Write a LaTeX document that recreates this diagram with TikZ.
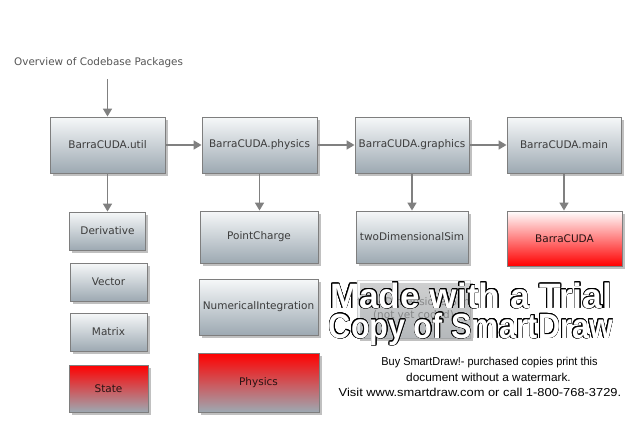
\documentclass[tikz,border=0pt]{standalone}
\usepackage{fontspec}
\setmainfont{DejaVu Sans}
\newfontfamily\wmfont{Liberation Sans}
\usepackage{contour}
\contourlength{0.7pt}
\usetikzlibrary{shadows,arrows.meta}
\definecolor{graytop}{HTML}{F6F8F9}
\definecolor{graybot}{HTML}{9DA9B2}
\definecolor{redtop}{HTML}{FF0000}
\definecolor{boxborder}{HTML}{7E7E7E}
\definecolor{boxtext}{HTML}{3C3C3C}
\definecolor{arrowgray}{HTML}{808080}
\definecolor{titlegray}{HTML}{555555}
\begin{document}
\begin{tikzpicture}[x=1pt,y=-1pt,
  box/.style={draw=boxborder, line width=0.9pt, top color=graytop, bottom color=graybot,
    text=boxtext, font=\fontsize{10.5}{12.5}\selectfont, inner sep=0pt, align=center,
    drop shadow={shadow xshift=2.5pt, shadow yshift=-2.5pt, opacity=0.35, fill=black!70}},
  redbox/.style={box, top color=redtop, bottom color=graybot, text=boxtext!80!red!40!black},
  mainred/.style={box, top color=white, bottom color=redtop, text=boxtext!80!red!40!black},
  arr/.style={draw=arrowgray, line width=1.6pt, -{Triangle[length=8pt,width=9pt]}, fill=arrowgray},
  wmbig/.style={anchor=base, inner sep=0pt, font=\wmfont\bfseries\fontsize{35}{40}\selectfont},
  wmsmall/.style={anchor=base, inner sep=0pt, font=\wmfont\fontsize{11.5}{13}\selectfont},
  sz/.style 2 args={minimum width=#1pt, minimum height=#2pt}]
\useasboundingbox (0,0) rectangle (637,421);
\fill[white] (0,0) rectangle (637,421);

% title
\node[anchor=base west, inner sep=0pt, text=titlegray, font=\fontsize{10.4}{12}\selectfont] (title) at (14,65) {Overview of Codebase Packages};
\coordinate (tstart) at (107.5,79);

% top row
\node[box, sz={115}{56}] (util) at (107.5,145) {BarraCUDA.util};
\node[box, sz={115}{56}] (phys) at (259.5,145) {BarraCUDA.physics};
\node[box, sz={114}{56}] (gfx) at (412,145) {BarraCUDA.graphics};
\node[box, sz={114}{56}] (main) at (564,145) {BarraCUDA.main};

% util column
\node[box, sz={76}{38}] (deriv) at (107.5,231) {Derivative};
\node[box, sz={77}{38}] (vec) at (108.5,282) {Vector};
\node[box, sz={77}{38}] (mat) at (108.5,332) {Matrix};
\node[redbox, sz={79}{47}] (state) at (108.5,388.5) {State};

% physics column
\node[box, sz={118}{52}] (pc) at (259,237) {PointCharge};
\node[box, sz={119}{56}] (ni) at (258.5,307) {NumericalIntegration};
\node[redbox, sz={121}{59}] (physics) at (258.5,382.5) {Physics};

% graphics column
\node[box, sz={112}{52}] (twod) at (412,237) {twoDimensionalSim};
\node[box, sz={113}{58}, opacity=0.3, text opacity=0.45] (threed) at (413.5,309) {threeDimensionalSim\\(not yet coded)};

% main column
\node[mainred, sz={115}{55}] (barra) at (564.5,238.5) {BarraCUDA};

% connectors
\draw[arr] (tstart) -- (util.north);
\draw[arr] (util.east) -- (phys.west);
\draw[arr] (phys.east) -- (gfx.west);
\draw[arr] (gfx.east) -- (main.west);
\draw[arr] (util.south) -- (util.south |- deriv.north);
\draw[arr] (phys.south) -- (phys.south |- pc.north);
\draw[arr] (gfx.south) -- (gfx.south |- twod.north);
\draw[arr] (main.south) -- (main.south |- barra.north);

% watermark
\node[wmbig] (wm1) at (471,308) {\resizebox{282pt}{!}{\contour{black}{\textcolor{white}{Made with a Trial}}}};
\node[wmbig] (wm2) at (471,338) {\scalebox{0.875}[1]{\contour{black}{\textcolor{white}{Copy of SmartDraw}}}};
\node[wmsmall] (wm3) at (489.5,365) {\scalebox{0.95}[1]{Buy SmartDraw!- purchased copies print this}};
\node[wmsmall] (wm4) at (488.5,381) {\scalebox{1.03}[1]{document without a watermark.}};
\node[wmsmall] (wm5) at (480,396) {\scalebox{1.12}[1]{Visit www.smartdraw.com or call 1-800-768-3729.}};
\end{tikzpicture}
\end{document}
